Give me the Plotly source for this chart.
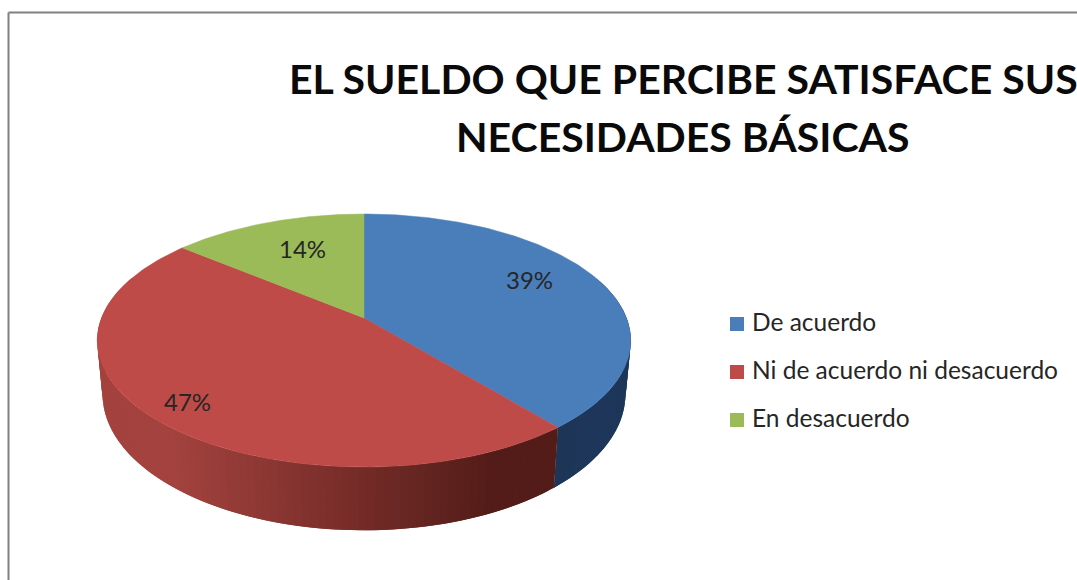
import numpy as np
import plotly.graph_objects as go

# Chart data
categories = ["De acuerdo", "Ni de acuerdo ni desacuerdo", "En desacuerdo"]
percentages = [39, 47, 14]
title_lines = ["EL SUELDO QUE PERCIBE SATISFACE SUS", "NECESIDADES BÁSICAS"]

# Colours of each slice: top face, side colour at the left and right of the pie
top_colors = ["#4A7EBB", "#BE4B48", "#9BBB59"]
side_left = ["#1D3659", "#A3423E", "#6F8A3C"]
side_right = ["#1B3354", "#531C18", "#5F7A30"]
label_color = "#262626"

# Perspective projection of the pie disc onto the plot
CX, CY = 364.0, 318.0
RX, RY = 262.5, 122.5
PERSP = 0.178
DEPTH = 52.0
BASE_SHRINK = 0.98
X_MIN, X_MAX = 96.0, 632.0
BAND_STEP = 1.5


def project(theta, r=1.0):
    """Disc point at clockwise angle theta (degrees from 12 o'clock), radius fraction r."""
    t = np.radians(theta)
    u, v = r * np.sin(t), -r * np.cos(t)
    s = 1.0 / (1.0 - PERSP * v)
    return CX + RX * u * s, CY + RY * v * s, s


def mix(c0, c1, f):
    a = [int(c0[i:i + 2], 16) for i in (1, 3, 5)]
    b = [int(c1[i:i + 2], 16) for i in (1, 3, 5)]
    return "rgb({},{},{})".format(*[round(p + (q - p) * f) for p, q in zip(a, b)])


fig = go.Figure()

bounds = np.concatenate([[0], np.cumsum(percentages)]) * 3.6

# Side wall: overlapping narrow bands, each painted over the previous one,
# so the shading runs smoothly across the pie
for i, name in enumerate(categories):
    start, end = max(bounds[i], 70.0), min(bounds[i + 1], 290.0)
    if end <= start:
        continue
    for a0 in np.arange(start, end, BAND_STEP):
        a1 = min(a0 + 2 * BAND_STEP, end)
        arc = np.linspace(a0, a1, 4)
        x, y, s = project(arc)
        xb = CX + (x - CX) * BASE_SHRINK
        yb = y + DEPTH * s
        f = np.clip((X_MAX - x[0]) / (X_MAX - X_MIN), 0, 1)
        f = np.clip((0.85 - f) / 0.6, 0, 1) if i == 1 else f
        color = mix(side_left[i], side_right[i], f)
        fig.add_trace(go.Scatter(
            x=np.concatenate([x, xb[::-1]]), y=np.concatenate([y, yb[::-1]]),
            mode="lines", fill="toself", fillcolor=color,
            line=dict(width=0),
            hoverinfo="skip", showlegend=False,
        ))

# Top face of each slice
for i, name in enumerate(categories):
    arc = np.linspace(bounds[i], bounds[i + 1], 160)
    x, y, _ = project(arc)
    fig.add_trace(go.Scatter(
        x=np.concatenate([[CX], x, [CX]]), y=np.concatenate([[CY], y, [CY]]),
        mode="lines", fill="toself", fillcolor=top_colors[i],
        line=dict(color=top_colors[i], width=0.5),
        name=name, text=f"{name}: {percentages[i]}%", hoverinfo="text", showlegend=False,
    ))

# Percentage labels, placed along each slice's middle angle
label_radius = 0.7
label_nudge = [(0, -11), (-34, 17), (9, 0)]
annotations = []
for i, pct in enumerate(percentages):
    lx, ly, _ = project((bounds[i] + bounds[i + 1]) / 2, label_radius)
    annotations.append(dict(
        x=lx + label_nudge[i][0], y=ly + label_nudge[i][1], text=f"{pct}%", showarrow=False,
        font=dict(family="Lato", size=24, color=label_color),
        xanchor="center", yanchor="middle",
    ))

# Two-line chart title
for line, y in zip(title_lines, (78, 136)):
    annotations.append(dict(
        x=683, y=y, text=f"<b>{line}</b>", showarrow=False,
        font=dict(family="Lato", size=41, color="#0A0A0A"),
        xanchor="center", yanchor="middle",
    ))

# Legend: square swatches with the category names beside them
legend_x = 737
legend_y = [324, 372, 420]
fig.add_trace(go.Scatter(
    x=[legend_x] * len(categories), y=legend_y, mode="markers",
    marker=dict(symbol="square", size=14, color=top_colors),
    hoverinfo="skip", showlegend=False,
))
for name, y in zip(categories, legend_y):
    annotations.append(dict(
        x=750, y=y - 3, text=name, showarrow=False,
        font=dict(family="Lato", size=24.5, color="#262626"),
        xanchor="left", yanchor="middle",
    ))

fig.update_layout(
    width=1077, height=580,
    margin=dict(l=0, r=0, t=0, b=0),
    paper_bgcolor="white", plot_bgcolor="white",
    xaxis=dict(range=[0, 1077], visible=False, fixedrange=True),
    yaxis=dict(range=[580, 0], visible=False, fixedrange=True),
    annotations=annotations,
    # Chart frame, open at the right where the title runs to the edge
    shapes=[
        dict(type="line", x0=8.5, x1=1077, y0=12.5, y1=12.5, line=dict(color="#808080", width=2)),
        dict(type="line", x0=8.5, x1=8.5, y0=12.5, y1=580, line=dict(color="#808080", width=2)),
    ],
    showlegend=False,
)

fig.write_html("out.html")
